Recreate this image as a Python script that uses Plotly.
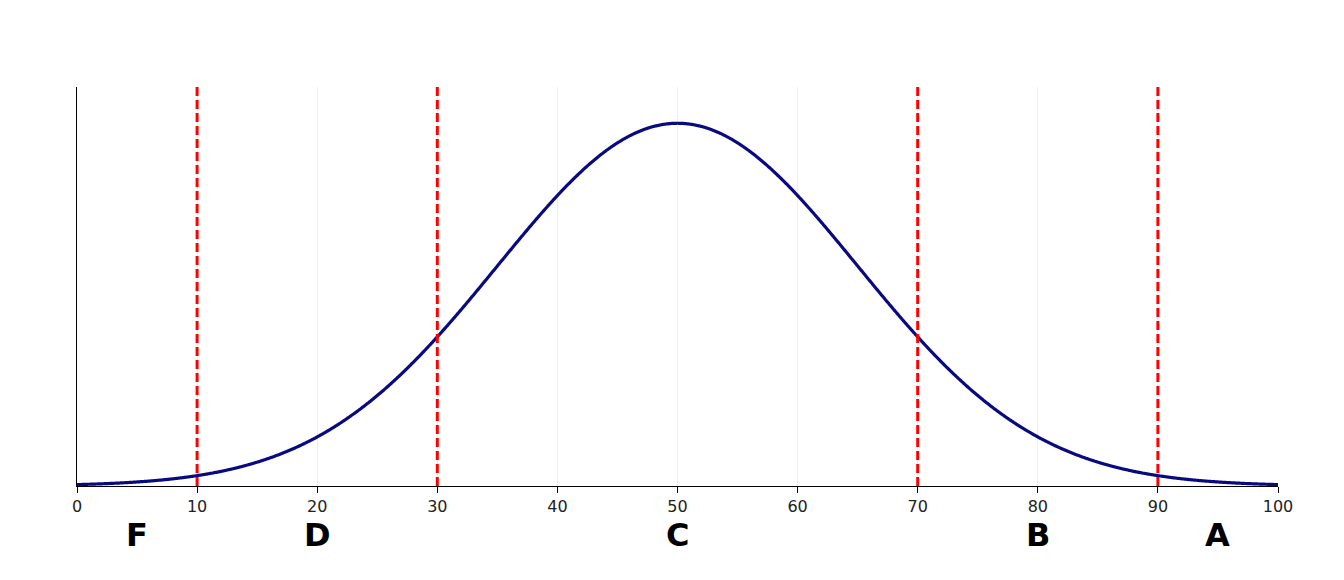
import numpy as np
import plotly.graph_objects as go

# Data
mean_score = 50
sd_score = 15
x_min, x_max = 0, 100
cutoffs = [10, 30, 70, 90]
grade_labels = ["F", "D", "C", "B", "A"]
grade_positions = [5, 20, 50, 80, 95]
tick_vals = [0, 10, 20, 30, 40, 50, 60, 70, 80, 90, 100]

x = np.linspace(x_min, x_max, 1001)
y = np.exp(-0.5 * ((x - mean_score) / sd_score) ** 2) / (sd_score * np.sqrt(2 * np.pi))
peak = y.max()

fig = go.Figure()
fig.add_trace(go.Scatter(x=x, y=y, mode="lines",
                         line=dict(color="#0a0a80", width=3.2, simplify=False, shape="spline"),
                         hoverinfo="skip", showlegend=False))

for c in cutoffs:
    fig.add_shape(type="line", x0=c, x1=c, xref="x", y0=0, y1=1, yref="paper",
                  line=dict(color="#ff0000", width=3, dash="9px,4px"), layer="above")

for lab, pos in zip(grade_labels, grade_positions):
    fig.add_annotation(x=pos, xref="x", y=-0.123, yref="paper", text=lab,
                       showarrow=False, yanchor="middle", xanchor="center",
                       font=dict(family="DejaVu Sans", size=32, color="black", weight="bold"))

fig.update_layout(
    width=1344, height=580,
    margin=dict(l=69, r=74, t=79, b=102),
    paper_bgcolor="white", plot_bgcolor="white",
    font=dict(family="DejaVu Sans", color="#222222"),
    xaxis=dict(range=[x_min, x_max], tickvals=tick_vals, ticktext=[str(t) for t in tick_vals],
               showgrid=True, gridcolor="#eeeeee", gridwidth=1,
               showline=True, linecolor="black", linewidth=1.2,
               ticks="outside", ticklen=6, tickcolor="black", tickwidth=1.2,
               tickfont=dict(size=16, color="#222222"), zeroline=False),
    yaxis=dict(range=[0, peak * 1.1], showgrid=False, showticklabels=False,
               showline=True, linecolor="black", linewidth=1.2, ticks="", zeroline=False),
)

fig.write_html("out.html")
